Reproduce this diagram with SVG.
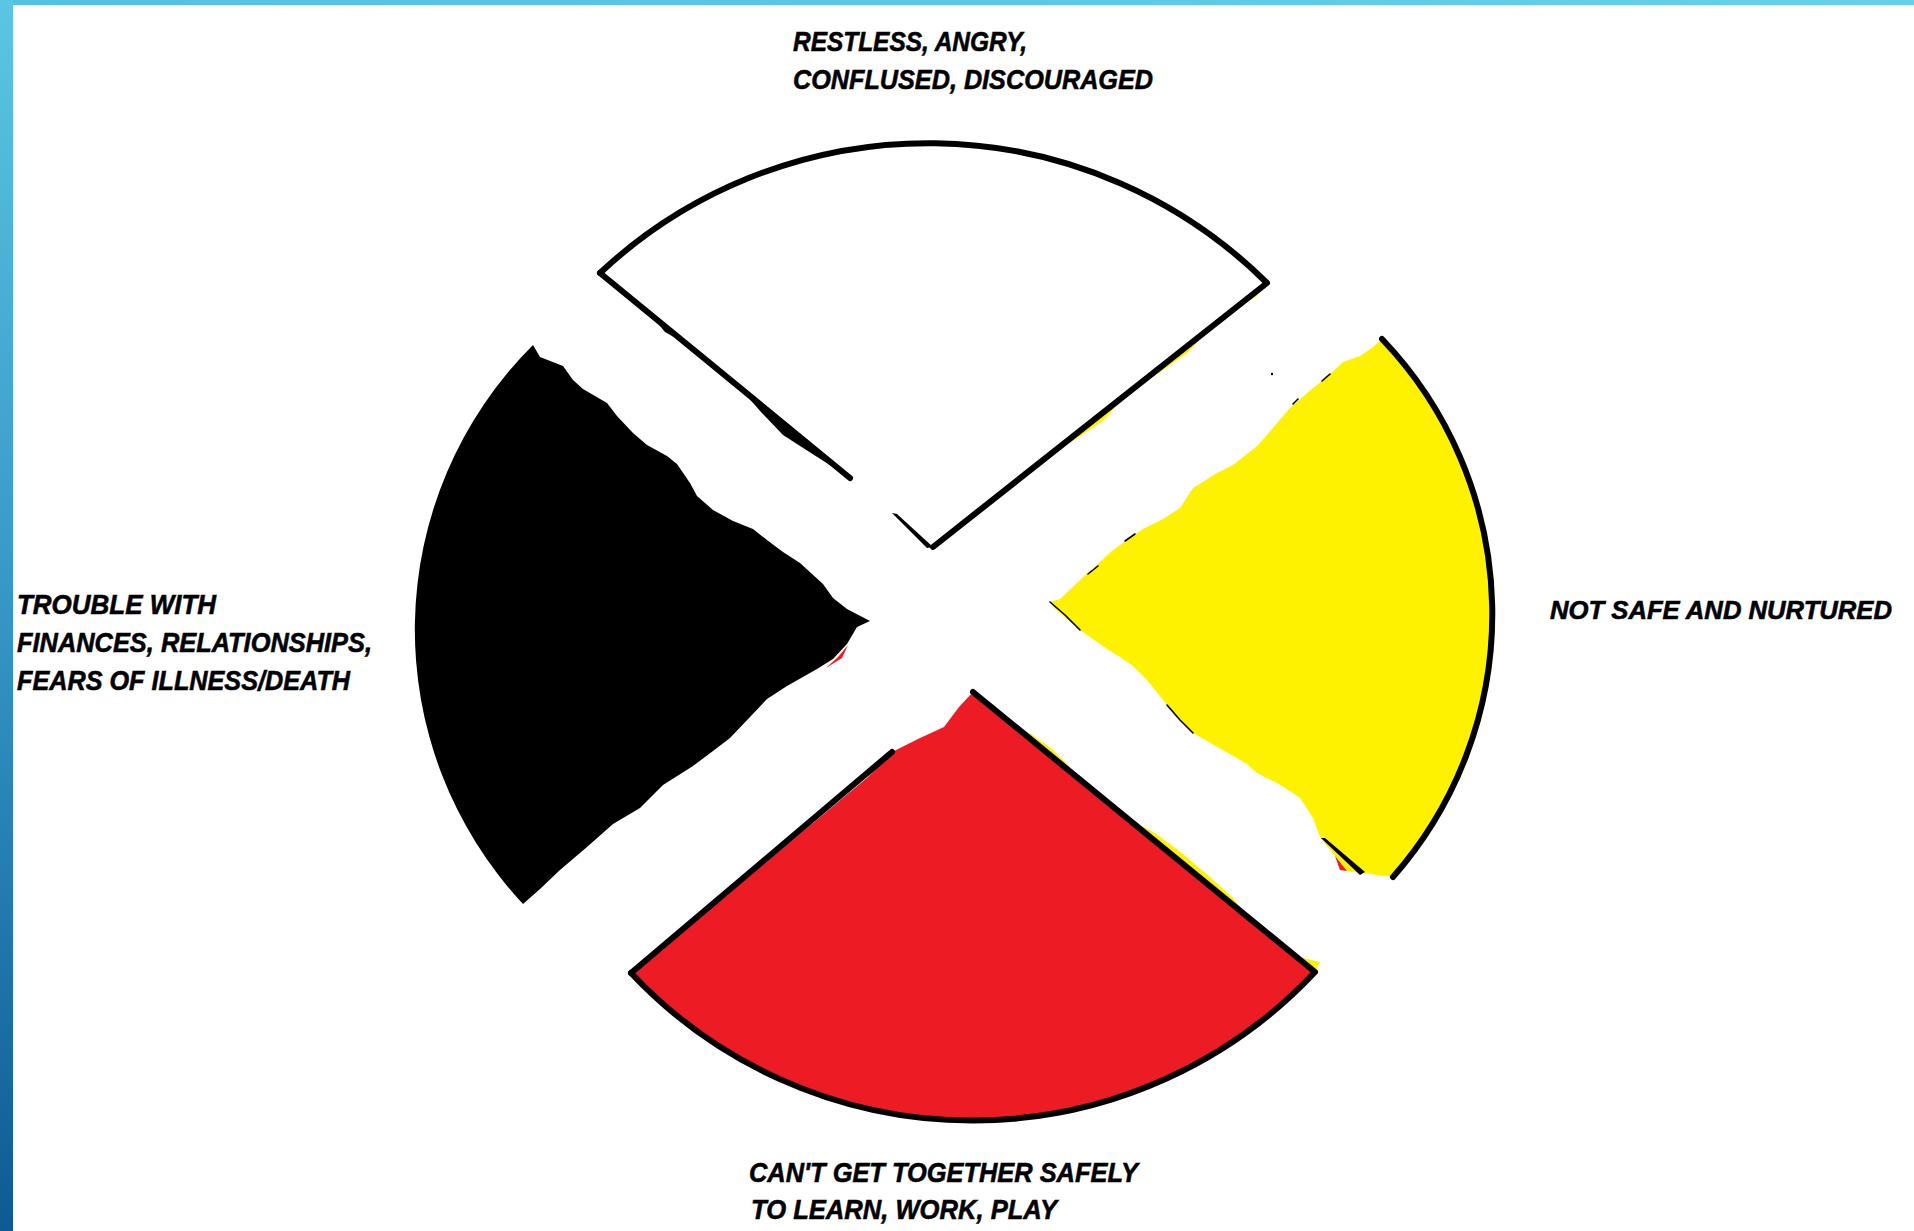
<svg xmlns="http://www.w3.org/2000/svg" width="1914" height="1231" viewBox="0 0 1914 1231">
<defs>
<linearGradient id="gLeft" x1="0" y1="0" x2="0" y2="1">
<stop offset="0" stop-color="#5bc6e3"/>
<stop offset="0.5" stop-color="#3596c5"/>
<stop offset="1" stop-color="#0e5a94"/>
</linearGradient>
<linearGradient id="gTop" x1="0" y1="0" x2="1" y2="0">
<stop offset="0" stop-color="#52c0e1"/>
<stop offset="1" stop-color="#66d0ea"/>
</linearGradient>
<style>
.lbl{font-family:"Liberation Sans",Arial,sans-serif;font-weight:bold;font-style:italic;font-size:28px;fill:#000;stroke:#000;stroke-width:0.6}
.ol{fill:none;stroke:#000;stroke-width:6;stroke-linejoin:round;stroke-linecap:round}
.thin{fill:none;stroke:#000;stroke-width:1.6;stroke-linecap:round}
.yel{fill:#fff200}
.red{fill:#ed1c24}
.blk{fill:#000}
</style>
</defs>
<rect width="1914" height="1231" fill="#fff"/>
<rect x="0" y="0" width="1914" height="5" fill="url(#gTop)"/>
<rect x="0" y="0" width="13" height="1231" fill="url(#gLeft)"/>

<g id="segment-white">
<path d="M600,273 A480,480 0 0,1 1267,283 L933,547 Z" fill="#fff"/>
<polygon class="yel" points="1267,283 1256,297 1237,307"/>
<polygon class="yel" points="1210,328 1187,353 1159,373 1143,381"/>
<polygon class="yel" points="1127,394 1104,420 1076,439 1053,452"/>
<polygon class="yel" points="966,521 952,536 936,544"/>
<path class="ol" d="M600,273 A480,480 0 0,1 1267,283 L933,547"/>
<path class="ol" d="M600,273 L850,478" stroke-width="5"/>
<polygon class="blk" points="650,314 665,332 688,345"/>
<polygon class="blk" points="739,387 761,412 783,435 811,453 847,476 800,436"/>
<polygon class="blk" points="892,513 897,514 933,547 927,548"/>
</g>

<g id="segment-black">
<path class="blk" d="M533,345 L540,357 L563,366 L573,380 L583,389 L607,403 L617,416 L633,433 L647,445 L667,456 L677,464 L690,483 L697,496 L713,510 L733,521 L753,529 L767,540 L783,552 L800,563 L823,584 L833,598 L847,609 L870,621 L857,627 L847,644 L833,659 L817,669 L787,686 L767,699 L750,717 L730,738 L713,751 L693,766 L663,785 L640,808 L613,824 L587,847 L560,870 L540,889 L523,904 A402,402 0 0,1 533,345 Z"/>
<polygon class="red" points="848,645 842,658 826,668 838,657"/>
</g>

<g id="segment-yellow">
<path class="yel" d="M1382,339 A398,398 0 0,1 1393,877 L1363,873 L1347,871 L1320,837 L1313,818 L1300,798 L1293,793 L1277,783 L1257,773 L1247,764 L1233,756 L1207,741 L1193,733 L1167,705 L1147,680 L1133,666 L1120,657 L1107,649 L1080,630 L1053,607 L1050,602 L1060,599 L1080,580 L1113,550 L1143,529 L1163,519 L1180,508 L1193,488 L1217,473 L1233,465 L1257,446 L1267,435 L1277,423 L1290,408 L1307,393 L1327,377 L1343,362 L1360,356 L1373,347 Z"/>
<path class="ol" d="M1382,339 A398,398 0 0,1 1393,877"/>
<polygon class="red" points="1335,856 1347,871 1340,870"/>
<polygon class="blk" points="1321,838 1325,838 1365,872 1360,875"/>
<polyline class="thin" points="1193,733 1180,720 1167,705"/>
<polyline class="thin" points="1050,602 1065,615 1080,630"/>
<polyline class="thin" points="1088,574 1098,566"/>
<polyline class="thin" points="1125,541 1135,534"/>
<polyline class="thin" points="1293,404 1298,399"/>
<polyline class="thin" points="1322,381 1330,374"/>
<circle cx="1272" cy="374" r="1.2" fill="#000"/>
</g>

<g id="segment-red">
<path class="red" d="M973,692 L1315,972 A469,469 0 0,1 631,973 L825,813 L844,797 L868,777 L892,752 L920,738 L944,727 L959,707 Z"/>
<polygon class="yel" points="1014,726 1031,734 1052,749 1068,765 1076,776"/>
<polygon class="yel" points="1127,818 1155,833 1183,854 1210,877 1233,898 1247,916"/>
<polygon class="yel" points="1295,956 1320,962 1315,972"/>
<path class="ol" d="M973,692 L1315,972 A469,469 0 0,1 631,973"/>
<path class="ol" d="M631,973 L892,752" stroke-width="3"/>
</g>

<g id="label-top">
<text class="lbl" x="793" y="51" textLength="234" lengthAdjust="spacingAndGlyphs">RESTLESS, ANGRY,</text>
<text class="lbl" x="793" y="89" textLength="360" lengthAdjust="spacingAndGlyphs">CONFLUSED, DISCOURAGED</text>
</g>
<g id="label-left">
<text class="lbl" x="17" y="614" textLength="199" lengthAdjust="spacingAndGlyphs">TROUBLE WITH</text>
<text class="lbl" x="17" y="652" textLength="355" lengthAdjust="spacingAndGlyphs">FINANCES, RELATIONSHIPS,</text>
<text class="lbl" x="17" y="690" textLength="333" lengthAdjust="spacingAndGlyphs">FEARS OF ILLNESS/DEATH</text>
</g>
<g id="label-right">
<text class="lbl" x="1550" y="619" style="font-size:26px" textLength="342" lengthAdjust="spacingAndGlyphs">NOT SAFE AND NURTURED</text>
</g>
<g id="label-bottom">
<text class="lbl" x="749" y="1182" textLength="389" lengthAdjust="spacingAndGlyphs">CAN'T GET TOGETHER SAFELY</text>
<text class="lbl" x="751" y="1219" textLength="306" lengthAdjust="spacingAndGlyphs">TO LEARN, WORK, PLAY</text>
</g>
</svg>
